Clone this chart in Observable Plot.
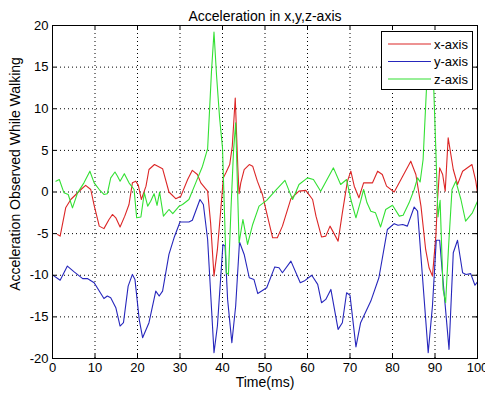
<!DOCTYPE html>
<html><head><meta charset="utf-8">
<script src="https://cdn.jsdelivr.net/npm/d3@7"></script>
<script src="https://cdn.jsdelivr.net/npm/@observablehq/plot@0.6"></script>
<style>
body{margin:0;background:#fff;}
#wrap{position:relative;width:485px;height:396px;font-family:"Liberation Sans",Arial,sans-serif;}
#legend{position:absolute;left:381px;top:31px;width:92px;height:59px;border:1px solid #000;background:#fff;box-sizing:border-box;}
</style></head><body><div id="wrap"></div>
<script>
const title = "Acceleration in x,y,z-axis";
const xLabel = "Time(ms)";
const yLabel = "Acceleration Observed While Walking";
const xTicks = [0, 10, 20, 30, 40, 50, 60, 70, 80, 90, 100];
const yTicks = [-20, -15, -10, -5, 0, 5, 10, 15, 20];
const seriesNames = ["x-axis", "y-axis", "z-axis"];
const seriesColors = ["#dc2626", "#2626bc", "#33e033"];

// [time, value] pairs
const xAxisData = [[1.2,-5.1],[1.8,-5.3],[3.1,-1.9],[4.3,-0.9],[5.5,-0.3],[6.7,0.3],[7.8,0.8],[9.0,0.3],[9.8,-1.6],[11.0,-4.1],[12.1,-4.4],[13.3,-3.3],[14.1,-2.7],[14.9,-3.1],[15.9,-4.2],[17.0,-2.9],[18.0,-1.5],[18.8,1.1],[19.6,1.3],[20.2,0.8],[20.9,-0.9],[22.0,0.7],[22.7,2.7],[24.0,3.3],[25.9,2.8],[27.4,0.0],[29.0,-0.8],[30.2,-0.5],[31.8,1.5],[32.9,2.6],[34.1,2.1],[34.9,1.1],[36.5,0.1],[37.2,-3.7],[38.0,-10.1],[38.8,-6.9],[39.6,-2.1],[40.2,1.7],[40.8,2.3],[41.7,3.3],[42.3,5.5],[43.0,11.3],[43.6,3.0],[43.9,-0.2],[44.3,1.1],[45.1,2.7],[46.3,3.3],[47.1,3.1],[48.2,1.3],[49.4,-0.3],[50.2,-2.1],[51.8,-5.5],[52.9,-5.5],[54.1,-4.1],[56.1,-0.8],[58.0,0.1],[59.6,0.2],[61.2,-0.9],[62.0,-2.9],[63.3,-5.4],[64.3,-5.3],[65.3,-4.1],[67.2,-5.9],[68.2,-2.5],[69.4,1.3],[70.2,2.5],[71.0,0.7],[72.1,-0.7],[73.2,1.1],[75.3,1.1],[76.5,2.5],[77.6,2.1],[78.6,0.7],[80.4,0.0],[82.4,1.9],[84.3,3.7],[85.5,2.1],[86.7,-1.7],[87.8,-6.9],[88.6,-9.1],[89.4,-10.1],[90.2,-5.3],[90.6,-0.9],[91.1,2.9],[91.8,2.1],[92.4,0.1],[93.1,6.5],[94.3,2.7],[95.3,0.9],[96.5,2.5],[98.7,3.3],[99.6,1.3],[100,-0.1]];

const yAxisData = [[0,-9.95],[1.8,-10.6],[3.5,-8.9],[5.1,-9.6],[7.1,-10.4],[8.2,-10.4],[9.8,-10.9],[12.1,-12.8],[12.9,-12.5],[13.7,-12.7],[14.9,-13.9],[15.9,-16.1],[16.7,-15.7],[17.8,-11.3],[18.8,-9.9],[19.4,-10.5],[20.4,-15.3],[21.2,-17.5],[22.7,-15.7],[24.3,-11.9],[25.1,-12.5],[25.9,-11.9],[27.4,-7.5],[28.6,-5.5],[30.0,-3.6],[32.1,-3.6],[32.9,-3.4],[34.7,-0.9],[35.5,-1.5],[36.5,-5.7],[38.0,-19.3],[38.8,-16.1],[40.1,-6.3],[40.6,-6.5],[41.2,-12.9],[42.2,-18.1],[43.1,-13.7],[44.0,-6.0],[45.1,-7.5],[46.3,-10.3],[47.4,-10.5],[48.3,-12.2],[50.4,-11.5],[52.3,-9.0],[53.3,-9.1],[54.1,-9.7],[56.1,-8.3],[58.3,-10.9],[59.2,-10.7],[61.0,-10.0],[62.4,-11.1],[63.3,-13.3],[64.3,-12.9],[65.5,-11.7],[67.2,-16.5],[68.2,-15.7],[69.2,-12.1],[70.0,-12.4],[71.4,-18.6],[72.5,-15.7],[74.9,-13.1],[76.8,-10.3],[78.8,-4.5],[80.4,-3.8],[81.3,-4.0],[82.4,-3.9],[83.5,-4.1],[85.1,-1.8],[85.9,-2.3],[87.1,-10.5],[88.4,-19.3],[89.4,-13.7],[90.3,-5.8],[91.1,-5.8],[91.8,-10.1],[93.3,-18.9],[94.3,-7.3],[95.3,-5.8],[96.5,-9.7],[97.3,-9.9],[98.4,-9.8],[99.4,-11.2],[100,-10.8]];

const zAxisData = [[0.8,1.3],[1.6,1.5],[2.7,-0.1],[3.7,-0.3],[4.7,-1.9],[5.9,-0.1],[7.4,1.1],[8.8,2.5],[9.8,1.1],[11.0,0.3],[12.1,-0.3],[12.9,-0.2],[13.7,1.7],[14.7,2.4],[15.3,1.9],[15.9,1.3],[16.9,2.2],[18.0,1.1],[19.2,0.3],[19.8,-3.1],[20.8,-3.0],[21.6,-0.1],[22.4,-1.7],[23.1,-1.1],[23.9,-0.2],[24.6,-1.6],[25.2,0.0],[26.1,-2.9],[27.4,-2.1],[28.3,-2.6],[29.8,-1.7],[30.6,-1.5],[32.1,-0.9],[33.7,1.1],[35.3,3.1],[36.5,5.2],[37.4,14.4],[38.0,19.2],[38.6,14.0],[39.3,9.0],[40.0,5.3],[40.9,-9.7],[41.4,-9.9],[42.0,-2.0],[42.6,5.0],[43.1,8.3],[43.9,-6.1],[44.8,-3.3],[45.9,-6.3],[47.1,-3.9],[48.6,-1.7],[50.4,-1.0],[52.5,0.2],[54.7,1.4],[55.7,0.1],[56.5,-0.9],[58.0,0.9],[60.0,1.7],[61.4,1.5],[63.1,0.1],[66.1,2.9],[67.8,0.9],[69.2,1.5],[70.2,-0.9],[71.4,-3.1],[72.5,-1.1],[73.2,0.3],[74.0,-1.3],[74.9,-2.3],[76.0,-2.5],[77.2,-4.2],[78.4,-2.1],[80.0,-1.6],[81.6,-2.9],[82.5,-2.8],[83.9,-1.3],[85.1,0.3],[85.9,1.7],[86.5,1.2],[87.2,3.9],[88.0,12.5],[88.8,14.5],[89.7,12.5],[90.2,5.0],[90.7,-3.0],[91.2,-1.0],[91.9,-11.7],[92.5,-13.3],[93.2,-6.5],[94.0,0.3],[94.9,1.3],[96.1,-0.9],[97.2,-3.5],[98.8,-2.5],[100,-1.1]];

const seriesData = [xAxisData, yAxisData, zAxisData];
const rows = [];
seriesData.forEach((arr, i) => arr.forEach(([t, v]) => rows.push({t, v, name: seriesNames[i]})));

const font = "'Liberation Sans', Arial, sans-serif";
const grid = {stroke: "#000", strokeOpacity: 1, strokeWidth: 1, strokeDasharray: "1,3"};
const chart = Plot.plot({
  width: 485, height: 396,
  marginLeft: 52, marginRight: 8, marginTop: 25, marginBottom: 38,
  style: {fontFamily: font, fontSize: "13px", background: "#fff", color: "#000", overflow: "visible"},
  x: {domain: [0, 100]},
  y: {domain: [-20, 20]},
  color: {domain: seriesNames, range: seriesColors},
  marks: [
    Plot.ruleX(xTicks.slice(1, -1), {x: d => d, ...grid}),
    Plot.ruleY(yTicks.slice(1, -1), {y: d => d, ...grid}),
    Plot.line(rows, {x: "t", y: "v", z: "name", stroke: "name", strokeWidth: 1.1}),
    Plot.ruleX(xTicks, {x: d => d, y1: -20, y2: -19.5, stroke: "#000"}),
    Plot.ruleX(xTicks, {x: d => d, y1: 20, y2: 19.5, stroke: "#000"}),
    Plot.ruleY(yTicks, {y: d => d, x1: 0, x2: 1, stroke: "#000"}),
    Plot.ruleY(yTicks, {y: d => d, x1: 100, x2: 99, stroke: "#000"}),
    Plot.frame({stroke: "#000"}),
    Plot.axisX(xTicks, {tickSize: 0, tickPadding: 4, label: null, tickFormat: d => String(d), fontSize: 13}),
    Plot.axisY(yTicks, {tickSize: 0, tickPadding: 4, label: null, tickFormat: d => String(d), fontSize: 13}),
    Plot.text([title], {frameAnchor: "top", dy: -14, text: d => d, fontSize: 14}),
    Plot.text([xLabel], {frameAnchor: "bottom", dy: 28, text: d => d, fontSize: 14}),
    Plot.text([yLabel], {frameAnchor: "left", textAnchor: "middle", rotate: -90, dx: -37, dy: -18, text: d => d, fontSize: 14})
  ]
});
const wrap = document.getElementById("wrap");
wrap.appendChild(chart);

// legend
const legend = document.createElement("div");
legend.id = "legend";
wrap.appendChild(legend);
const lsvg = d3.select(legend).append("svg").attr("width", 90).attr("height", 57)
  .style("position", "absolute").style("left", "0").style("top", "0");
seriesNames.forEach((n, i) => {
  const y = 12 + i * 17.5;
  lsvg.append("line").attr("x1", 6).attr("x2", 49).attr("y1", y).attr("y2", y)
    .attr("stroke", seriesColors[i]).attr("stroke-width", 1.1);
  lsvg.append("text").attr("x", 52).attr("y", y).attr("dy", "0.35em")
    .attr("font-family", font).attr("font-size", 13).text(n);
});
</script></body></html>
